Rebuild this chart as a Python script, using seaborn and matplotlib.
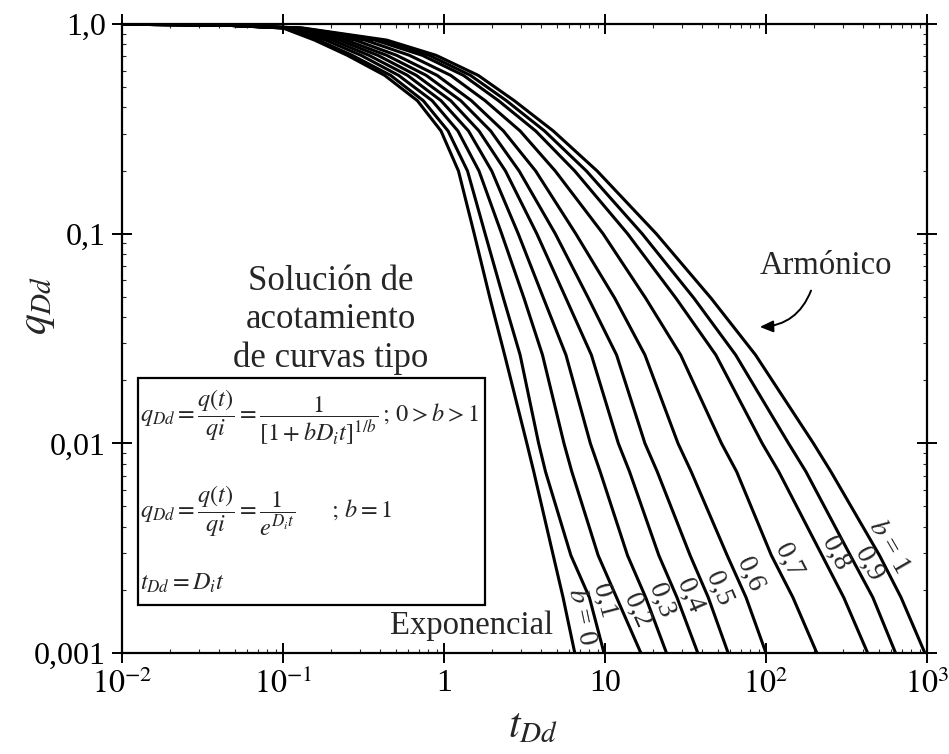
import numpy as np
import pandas as pd
import matplotlib
matplotlib.use("Agg")
import matplotlib.pyplot as plt
import seaborn as sns
from matplotlib.patches import Rectangle
from matplotlib.ticker import FixedLocator, FixedFormatter, LogLocator, NullFormatter

# ---------------- data ----------------
b_labels = [r"$b$ = 0", "0,1", "0,2", "0,3", "0,4", "0,5", "0,6", "0,7", "0,8", "0,9", r"$b$ = 1"]
label_logq = [-2.825, -2.75, -2.80, -2.75, -2.725, -2.695, -2.625, -2.56, -2.525, -2.575, -2.495]

# q levels at which the curves were read
q_levels = [0.997, 0.989, 0.957, 0.838, 0.709, 0.569, 0.431, 0.309, 0.199, 0.1,
            0.0492, 0.0264, 0.01, 0.00733, 0.00292, 0.00184, 0.001]

# t_Dd of each curve at those q levels
t_b00 = [0.01, 0.0417, 0.100, 0.157, 0.251, 0.428, 0.683, 0.958, 1.23, 1.54, 1.93, 2.38, 3.27, 3.61, 4.77, 5.49, 6.49]
t_b01 = [0.01, 0.0417, 0.1014, 0.166, 0.269, 0.466, 0.743, 1.06, 1.40, 1.80, 2.34, 2.97, 3.87, 4.27, 6.14, 8.00, 9.86]
t_b02 = [0.01, 0.0417, 0.1043, 0.184, 0.305, 0.522, 0.844, 1.22, 1.65, 2.28, 3.14, 4.09, 5.56, 6.22, 9.07, 11.8, 16.7]
t_b03 = [0.01, 0.0417, 0.1073, 0.203, 0.342, 0.593, 0.958, 1.42, 1.98, 2.89, 4.15, 5.72, 8.11, 9.33, 13.8, 17.9, 24.1]
t_b04 = [0.01, 0.0417, 0.1104, 0.224, 0.388, 0.673, 1.10, 1.65, 2.41, 3.77, 5.72, 8.23, 12.1, 14.2, 21.6, 28.0, 37.7]
t_b05 = [0.01, 0.0417, 0.1135, 0.247, 0.441, 0.775, 1.27, 1.95, 2.93, 4.91, 7.89, 11.8, 17.7, 21.1, 33.8, 43.8, 58.2]
t_b06 = [0.01, 0.0417, 0.1168, 0.281, 0.508, 0.906, 1.48, 2.34, 3.71, 6.58, 11.5, 17.7, 28.4, 34.3, 57.4, 75.2, 100]
t_b07 = [0.01, 0.0417, 0.1219, 0.323, 0.610, 1.10, 1.80, 2.97, 4.91, 9.72, 17.9, 29.5, 52.9, 65.7, 108, 147, 207]
t_b08 = [0.01, 0.0417, 0.1271, 0.372, 0.733, 1.32, 2.18, 3.71, 6.49, 13.8, 27.6, 48.8, 94.7, 120, 223, 304, 428]
t_b09 = [0.01, 0.0417, 0.1290, 0.405, 0.809, 1.46, 2.44, 4.21, 7.67, 17.0, 35.7, 64.8, 138, 177, 334, 461, 638]
t_b10 = [0.01, 0.0417, 0.1327, 0.441, 0.893, 1.63, 2.73, 4.77, 8.94, 20.8, 45.6, 86.1, 197, 253, 507, 690, 970]
curves_t = [t_b00, t_b01, t_b02, t_b03, t_b04, t_b05, t_b06, t_b07, t_b08, t_b09, t_b10]

x_ticks = [1e-2, 1e-1, 1, 10, 1e2, 1e3]
x_ticklabels = [r"$10^{-2}$", r"$10^{-1}$", "1", "10", r"$10^{2}$", r"$10^{3}$"]
y_ticks = [1e-3, 1e-2, 1e-1, 1]
y_ticklabels = ["0,001", "0,01", "0,1", "1,0"]

# ---------------- style ----------------
sns.set_style("ticks")
plt.rcParams["font.family"] = ["Liberation Serif", "DejaVu Serif"]
plt.rcParams["mathtext.fontset"] = "stix"
plt.rcParams["axes.linewidth"] = 1.6

rows = []
for lab, ts in zip(b_labels, curves_t):
    for t, q in zip(ts, q_levels):
        rows.append({"b": lab, "t": t, "q": q})
df = pd.DataFrame(rows)

fig = plt.figure(figsize=(9.49, 7.54), dpi=100)
W, H = 949, 754
L, R, T, B = 122, 927, 24, 653
ax = fig.add_axes([L / W, 1 - B / H, (R - L) / W, (B - T) / H])

sns.lineplot(data=df, x="t", y="q", units="b", estimator=None, sort=False,
             color="black", linewidth=2.2, ax=ax, legend=False)

ax.set_xscale("log")
ax.set_yscale("log")
ax.set_xlim(1e-2, 1e3)
ax.set_ylim(1e-3, 1)

ax.xaxis.set_major_locator(FixedLocator(x_ticks))
ax.xaxis.set_major_formatter(FixedFormatter(x_ticklabels))
ax.yaxis.set_major_locator(FixedLocator(y_ticks))
ax.yaxis.set_major_formatter(FixedFormatter(y_ticklabels))
ax.xaxis.set_minor_locator(LogLocator(base=10, subs=np.arange(2, 10), numticks=20))
ax.yaxis.set_minor_locator(LogLocator(base=10, subs=np.arange(2, 10), numticks=20))
ax.xaxis.set_minor_formatter(NullFormatter())
ax.yaxis.set_minor_formatter(NullFormatter())
ax.tick_params(which="major", direction="inout", length=15, width=1.4,
               top=True, right=True, labelsize=23, pad=4, colors="black")
ax.tick_params(which="minor", direction="in", length=3, width=0.8,
               top=True, right=True)
for s in ax.spines.values():
    s.set_color("black")

def ax_xy(px, py):
    return ((px - L) / (R - L), (B - py) / (B - T))

ax.set_xlabel(r"$t_{Dd}$", fontsize=30)
ax.xaxis.set_label_coords(*ax_xy(533, 727))
ax.xaxis.label.set_va("center")
ax.set_ylabel(r"$q_{Dd}$", fontsize=30)
ax.yaxis.set_label_coords(*ax_xy(38, 305))
ax.yaxis.label.set_va("center")

# curve labels, placed just right of each curve near the bottom
lqs = np.log10(q_levels)
for lab, lq, ts in zip(b_labels, label_logq, curves_t):
    lt = np.log10(ts)
    n = len(lt)
    k = max(i for i in range(n - 1) if lqs[i] >= lq)
    f = (lq - lqs[k]) / (lqs[k + 1] - lqs[k])
    xt = 10 ** (lt[k] + f * (lt[k + 1] - lt[k]))
    p0 = ax.transData.transform((ts[k], q_levels[k]))
    p1 = ax.transData.transform((ts[k + 1], q_levels[k + 1]))
    ang = np.degrees(np.arctan2(p1[1] - p0[1], p1[0] - p0[0]))
    ax.annotate(lab, xy=(xt, 10 ** lq), xytext=(10, 0), textcoords="offset points",
                rotation=ang, rotation_mode="anchor", ha="center", va="center",
                fontsize=20)

ax.text(*ax_xy(331, 320), "Solución de\nacotamiento\nde curvas tipo", transform=ax.transAxes,
        ha="center", va="center", fontsize=25, linespacing=1.2)
ax.text(*ax_xy(472, 626), "Exponencial", transform=ax.transAxes,
        ha="center", va="center", fontsize=23.5)
ax.text(*ax_xy(826, 266), "Armónico", transform=ax.transAxes,
        ha="center", va="center", fontsize=23.5)
ax.annotate("", xy=ax_xy(757, 327), xycoords="axes fraction",
            xytext=ax_xy(812, 288), textcoords="axes fraction",
            arrowprops=dict(arrowstyle="-|>,head_length=0.8,head_width=0.35", color="black",
                            lw=1.4, connectionstyle="arc3,rad=-0.35"))

x0, y0 = ax_xy(138, 605)
x1, y1 = ax_xy(485, 378)
ax.add_patch(Rectangle((x0, y0), x1 - x0, y1 - y0, transform=ax.transAxes,
                       fill=False, edgecolor="black", lw=1.6))
ax.text(*ax_xy(140, 418), r"$q_{Dd} = \dfrac{q(t)}{qi} = \dfrac{1}{[1+bD_it]^{1/b}}\,;\, 0 > b > 1$",
        transform=ax.transAxes, ha="left", va="center", fontsize=17.5)
ax.text(*ax_xy(140, 512), r"$q_{Dd} = \dfrac{q(t)}{qi} = \dfrac{1}{e^{D_it}}\qquad ;\, b = 1$",
        transform=ax.transAxes, ha="left", va="center", fontsize=17.5)
ax.text(*ax_xy(140, 583), r"$t_{Dd} = D_it$",
        transform=ax.transAxes, ha="left", va="center", fontsize=17.5)

fig.savefig("out.png", dpi=100, facecolor="white")
